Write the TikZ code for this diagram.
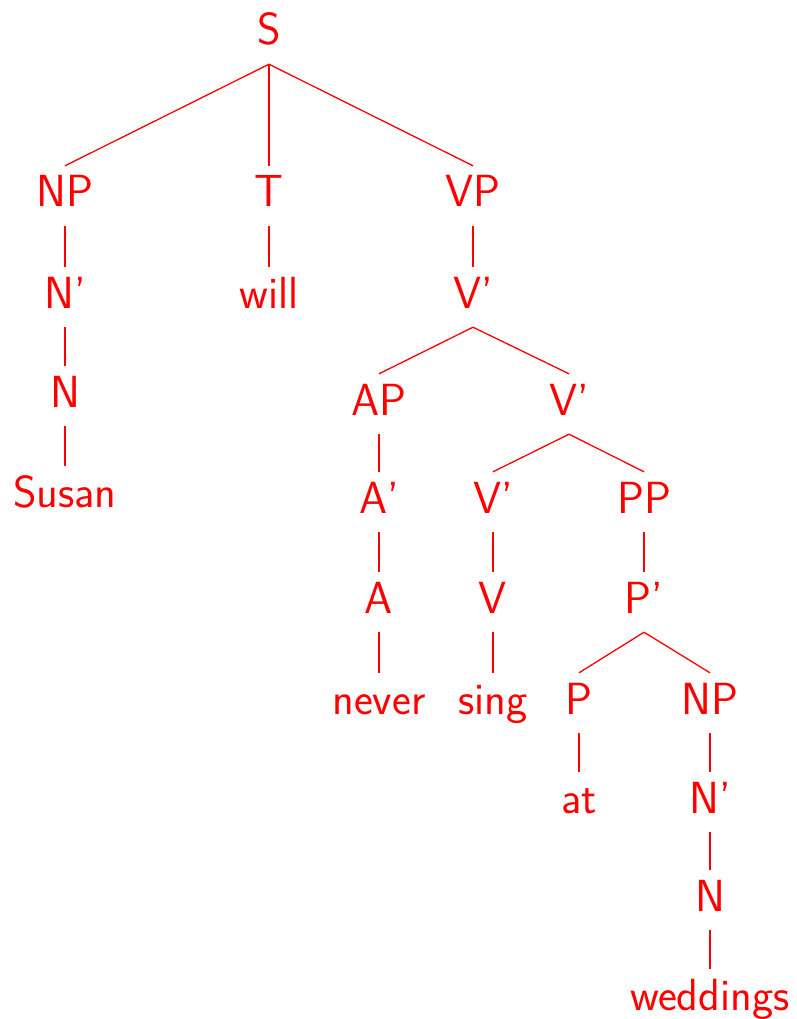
\documentclass[tikz,border=0pt]{standalone}
\usepackage{fontspec}
\usepackage{tikz}

\begin{document}
\begin{tikzpicture}[
    x=1pt, y=-1pt,
    every node/.style={font=\sffamily\fontsize{45}{54}\selectfont, red},
    cat/.style={anchor=base, inner sep=0pt, text height=41pt, text depth=19pt},
    br/.style={red, line width=1.3pt}
  ]
  \useasboundingbox (0,0) rectangle (796,1019);

  \node[cat] (s)     at (269,45)  {S};
  \node[cat] (np)    at (65,207)  {NP};
  \node[cat] (t)     at (269,207) {T};
  \node[cat] (vp)    at (473,207) {VP};
  \node[cat] (nbar)  at (65,308)  {N'};
  \node[cat] (will)  at (269,308) {will};
  \node[cat] (vbar)  at (473,308) {V'};
  \node[cat] (n)     at (65,407)  {N};
  \node[cat] (susan) at (65,507)  {Susan};
  \node[cat] (ap)    at (379,415) {AP};
  \node[cat] (vbarb) at (569,415) {V'};
  \node[cat] (abar)  at (379,513) {A'};
  \node[cat] (adj)   at (379,613) {A};
  \node[cat] (never) at (379,714) {never};
  \node[cat] (vbarc) at (493,513) {V'};
  \node[cat] (verb)  at (493,613) {V};
  \node[cat] (sing)  at (493,714) {sing};
  \node[cat] (pp)    at (644,513) {PP};
  \node[cat] (pbar)  at (644,613) {P'};
  \node[cat] (prep)  at (579,714) {P};
  \node[cat] (atw)   at (579,813) {at};
  \node[cat] (npb)   at (710,714) {NP};
  \node[cat] (nbarb) at (710,813) {N'};
  \node[cat] (nb)    at (710,911) {N};
  \node[cat] (wed)   at (710,1010) {weddings};

  \draw[br] (s.south) -- (np.north);
  \draw[br] (s.south) -- (t.north);
  \draw[br] (s.south) -- (vp.north);
  \draw[br] (np) -- (nbar);
  \draw[br] (nbar) -- (n);
  \draw[br] (n) -- (susan);
  \draw[br] (t) -- (will);
  \draw[br] (vp) -- (vbar);
  \draw[br] (vbar.south) -- (ap.north);
  \draw[br] (vbar.south) -- (vbarb.north);
  \draw[br] (ap) -- (abar);
  \draw[br] (abar) -- (adj);
  \draw[br] (adj) -- (never);
  \draw[br] (vbarb.south) -- (vbarc.north);
  \draw[br] (vbarb.south) -- (pp.north);
  \draw[br] (vbarc) -- (verb);
  \draw[br] (verb) -- (sing);
  \draw[br] (pp) -- (pbar);
  \draw[br] (pbar.south) -- (prep.north);
  \draw[br] (pbar.south) -- (npb.north);
  \draw[br] (prep) -- (atw);
  \draw[br] (npb) -- (nbarb);
  \draw[br] (nbarb) -- (nb);
  \draw[br] (nb) -- (wed);
\end{tikzpicture}
\end{document}
